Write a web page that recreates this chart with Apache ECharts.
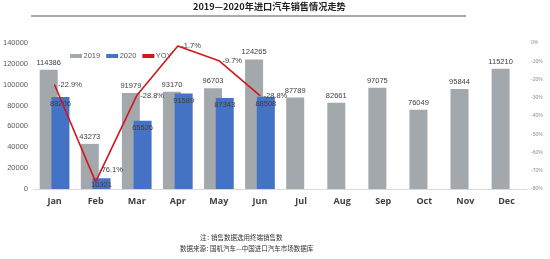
<!DOCTYPE html>
<html>
<head>
<meta charset="utf-8">
<script src="https://cdn.jsdelivr.net/npm/echarts@6/dist/echarts.min.js"></script>
<style>
html,body{margin:0;padding:0;background:#fff;}
#main{width:550px;height:259px;}
</style>
</head>
<body>
<div id="main"></div>
<script>
// 月份
var months = ['Jan', 'Feb', 'Mar', 'Apr', 'May', 'Jun', 'Jul', 'Aug', 'Sep', 'Oct', 'Nov', 'Dec'];
// 2019年销量
var sales2019 = [114386, 43273, 91979, 93170, 96703, 124265, 87789, 82661, 97075, 76049, 95844, 115210];
// 2020年销量 (1-6月)
var sales2020 = [88206, 10321, 65526, 91589, 87343, 88508];
// 同比 %
var yoy = [-22.9, -76.1, -28.8, -1.7, -9.7, -28.8];

var numFont = 'Liberation Sans';
var cjkFont = 'Noto Sans CJK SC';
var noteFont = '6.5px "Noto Sans CJK SC"';

var chart = echarts.init(document.getElementById('main'));

var yoyData = [];
for (var i = 0; i < yoy.length; i++) {
    var item = {value: yoy[i]};
    if (i == 1) {
        item.label = {offset: [0, -12]};
    }
    yoyData.push(item);
}

var option = {
    animation: false,
    textStyle: {fontFamily: numFont},
    title: {
        text: '2019—2020年进口汽车销售情况走势',
        left: 188,
        top: -3,
        textStyle: {fontFamily: cjkFont, fontSize: 9.2, fontWeight: 'bold', color: '#222'}
    },
    graphic: [
        {
            type: 'line',
            shape: {x1: 31, y1: 16, x2: 466, y2: 16},
            style: {stroke: '#555', lineWidth: 1.2}
        },
        {
            type: 'text', left: 200, top: 234,
            style: {text: '注：', fill: '#333', font: noteFont}
        },
        {
            type: 'text', left: 211, top: 234,
            style: {text: '销售数据选用终端销售数', fill: '#333', font: noteFont}
        },
        {
            type: 'text', left: 180, top: 245,
            style: {text: '数据来源：', fill: '#333', font: noteFont}
        },
        {
            type: 'text', left: 210, top: 245,
            style: {text: '国机汽车—中国进口汽车市场数据库', fill: '#333', font: noteFont}
        }
    ],
    legend: {
        left: 65,
        top: 47,
        itemWidth: 12,
        itemHeight: 4,
        itemGap: 6,
        textStyle: {fontSize: 7.5, color: '#595959', fontFamily: numFont, padding: [0, 0, 0, -3.5]},
        data: [
            {name: '2019', icon: 'rect'},
            {name: '2020', icon: 'rect'},
            {name: 'YOY', icon: 'rect'}
        ]
    },
    grid: {left: 32, right: 23, top: 43, bottom: 70},
    xAxis: {
        type: 'category',
        data: months,
        axisLine: {lineStyle: {color: '#d9d9d9'}},
        axisTick: {show: false},
        axisLabel: {color: '#404040', fontSize: 9, fontWeight: 'bold', fontFamily: 'Open Sans', margin: 8}
    },
    yAxis: [
        {
            type: 'value',
            min: 0,
            max: 140000,
            interval: 20000,
            splitLine: {show: false},
            axisLine: {show: false},
            axisTick: {show: false},
            axisLabel: {
                color: '#595959', fontSize: 7.5, margin: 6,
                formatter: function (v) { return String(v); }
            }
        },
        {
            type: 'value',
            min: -80,
            max: 0,
            interval: 10,
            splitLine: {show: false},
            axisLine: {show: false},
            axisTick: {show: false},
            axisLabel: {
                color: '#8c8c8c', fontSize: 5, margin: 4,
                formatter: function (v) { return v + '%'; }
            }
        }
    ],
    series: [
        {
            name: '2019',
            type: 'bar',
            data: sales2019,
            barWidth: 18,
            barGap: '-35%',
            itemStyle: {color: '#a3a8ad'},
            label: {show: true, position: 'top', distance: 3, fontSize: 7.5, color: '#404040'}
        },
        {
            name: '2020',
            type: 'bar',
            data: sales2020,
            barWidth: 18,
            itemStyle: {color: '#4472c4'},
            label: {show: true, position: 'insideTop', distance: 3, fontSize: 7.5, color: '#404040'}
        },
        {
            name: 'YOY',
            type: 'line',
            yAxisIndex: 1,
            data: yoyData,
            symbol: 'circle',
            symbolSize: 1,
            itemStyle: {color: '#d2161c'},
            lineStyle: {color: '#d2161c', width: 1.6},
            label: {
                show: true, position: 'right', distance: 3, fontSize: 7.5, color: '#404040',
                formatter: function (p) { return p.value + '%'; }
            }
        }
    ]
};

chart.setOption(option);
</script>
</body>
</html>
